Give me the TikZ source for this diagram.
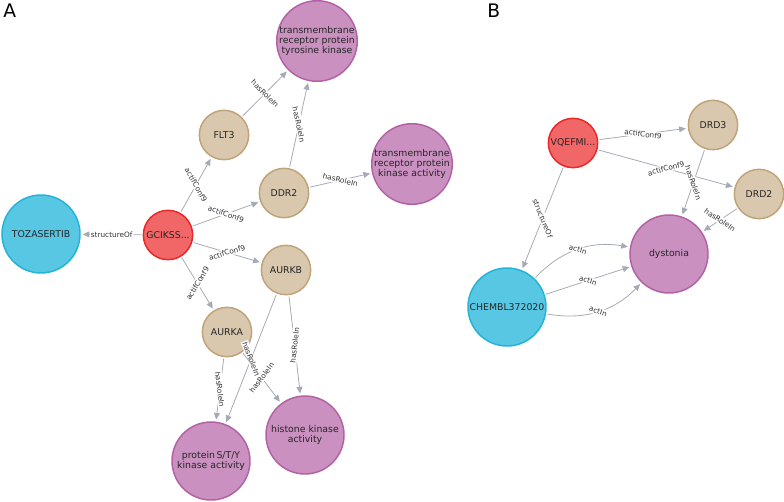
\documentclass[tikz,border=0pt]{standalone}
\usepackage{fontspec}
\setmainfont{DejaVu Sans}
\usetikzlibrary{arrows.meta}
\definecolor{cmpfill}{HTML}{57C7E3}
\definecolor{cmpline}{HTML}{23B3D7}
\definecolor{confill}{HTML}{F16667}
\definecolor{conline}{HTML}{EB2728}
\definecolor{genfill}{HTML}{D9C8AE}
\definecolor{genline}{HTML}{C0A378}
\definecolor{rolfill}{HTML}{C990C0}
\definecolor{rolline}{HTML}{B261A5}
\definecolor{relline}{HTML}{A5ABB6}
\begin{document}
\begin{tikzpicture}[x=0.75pt,y=0.75pt,yscale=-1,
  bignode/.style={circle,minimum size=58.5pt,inner sep=0pt,line width=1.1pt,align=center,text=black!85,font=\fontsize{7}{7.2}\selectfont},
  smallnode/.style={circle,minimum size=37pt,inner sep=0pt,line width=1.1pt,text=black!85,font=\fontsize{7}{8}\selectfont},
  compound/.style={bignode,fill=cmpfill,draw=cmpline},
  conform/.style={smallnode,fill=confill,draw=conline},
  gene/.style={smallnode,fill=genfill,draw=genline},
  role/.style={bignode,fill=rolfill,draw=rolline},
  rel/.style={draw=relline,line width=0.6pt,shorten >=1.5pt,shorten <=1pt,-{Triangle[length=5pt,width=4.5pt]}},
  rlab/.style={sloped,midway,fill=white,inner sep=0.8pt,text=black!80,font=\fontsize{5.5}{6}\selectfont}
]
\useasboundingbox (0,0) rectangle (784,502);
% Panel labels
\node [anchor=north west,inner sep=0pt,font=\fontsize{14}{14}\selectfont] (labA) at (3,4) {A};
\node [anchor=north west,inner sep=0pt,font=\fontsize{14}{14}\selectfont] (labB) at (487,4) {B};

%Panel A: nodes
\node [compound] (toz) at (41,234) {TOZASERTIB};
\node [conform] (gck) at (168,235) {GCIKSS...};
\node [gene] (flt) at (224,135) {FLT3};
\node [gene] (ddr) at (284,193) {DDR2};
\node [gene] (aurb) at (286,270) {AURKB};
\node [gene] (aura) at (227,332) {AURKA};
\node [role] (tyr) at (317,41) {transmembrane\\receptor protein\\tyrosine kinase};
\node [role] (kin) at (412,164) {transmembrane\\receptor protein\\kinase activity};
\node [role] (sty) at (211,461) {protein\,S/T/Y\\kinase activity};
\node [role] (his) at (305,435) {histone kinase\\activity};

%Panel A: relations
\draw [rel] (gck) -- node [rlab] {structureOf} (toz);
\draw [rel] (gck) -- node [rlab] {actifConf9} (flt);
\draw [rel] (gck) -- node [rlab] {actifConf9} (ddr);
\draw [rel] (gck) -- node [rlab] {actifConf9} (aurb);
\draw [rel] (gck) -- node [rlab] {actifConf9} (aura);
\draw [rel] (flt) -- node [rlab] {hasRoleIn} (tyr);
\draw [rel] (ddr) -- node [rlab] {hasRoleIn} (tyr);
\draw [rel] (ddr) -- node [rlab] {hasRoleIn} (kin);
\draw [rel] (aurb) -- node [rlab] {hasRoleIn} (sty);
\draw [rel] (aurb) -- node [rlab] {hasRoleIn} (his);
\draw [rel] (aura) -- node [rlab] {hasRoleIn} (sty);
\draw [rel] (aura) -- node [rlab] {hasRoleIn} (his);

%Panel B: nodes
\node [conform] (vqe) at (573,143) {VQEFMI...};
\node [gene] (drd3) at (713,125) {DRD3};
\node [gene] (drd2) at (759,194) {DRD2};
\node [role] (dys) at (669,254) {dystonia};
\node [compound] (chem) at (507,307) {CHEMBL372020};

%Panel B: relations
\draw [rel] (vqe) -- node [rlab] {actifConf9} (drd3);
\draw [rel] (vqe) -- node [rlab] {actifConf9} (drd2);
\draw [rel] (vqe) -- node [rlab] {structureOf} (chem);
\draw [rel] (drd3) -- node [rlab] {hasRoleIn} (dys);
\draw [rel] (drd2) -- node [rlab] {hasRoleIn} (dys);
\draw [rel] (chem) to [bend left=28] node [rlab] {actIn} (dys);
\draw [rel] (chem) -- node [rlab] {actIn} (dys);
\draw [rel] (chem) to [bend right=28] node [rlab] {actIn} (dys);
\end{tikzpicture}
\end{document}
